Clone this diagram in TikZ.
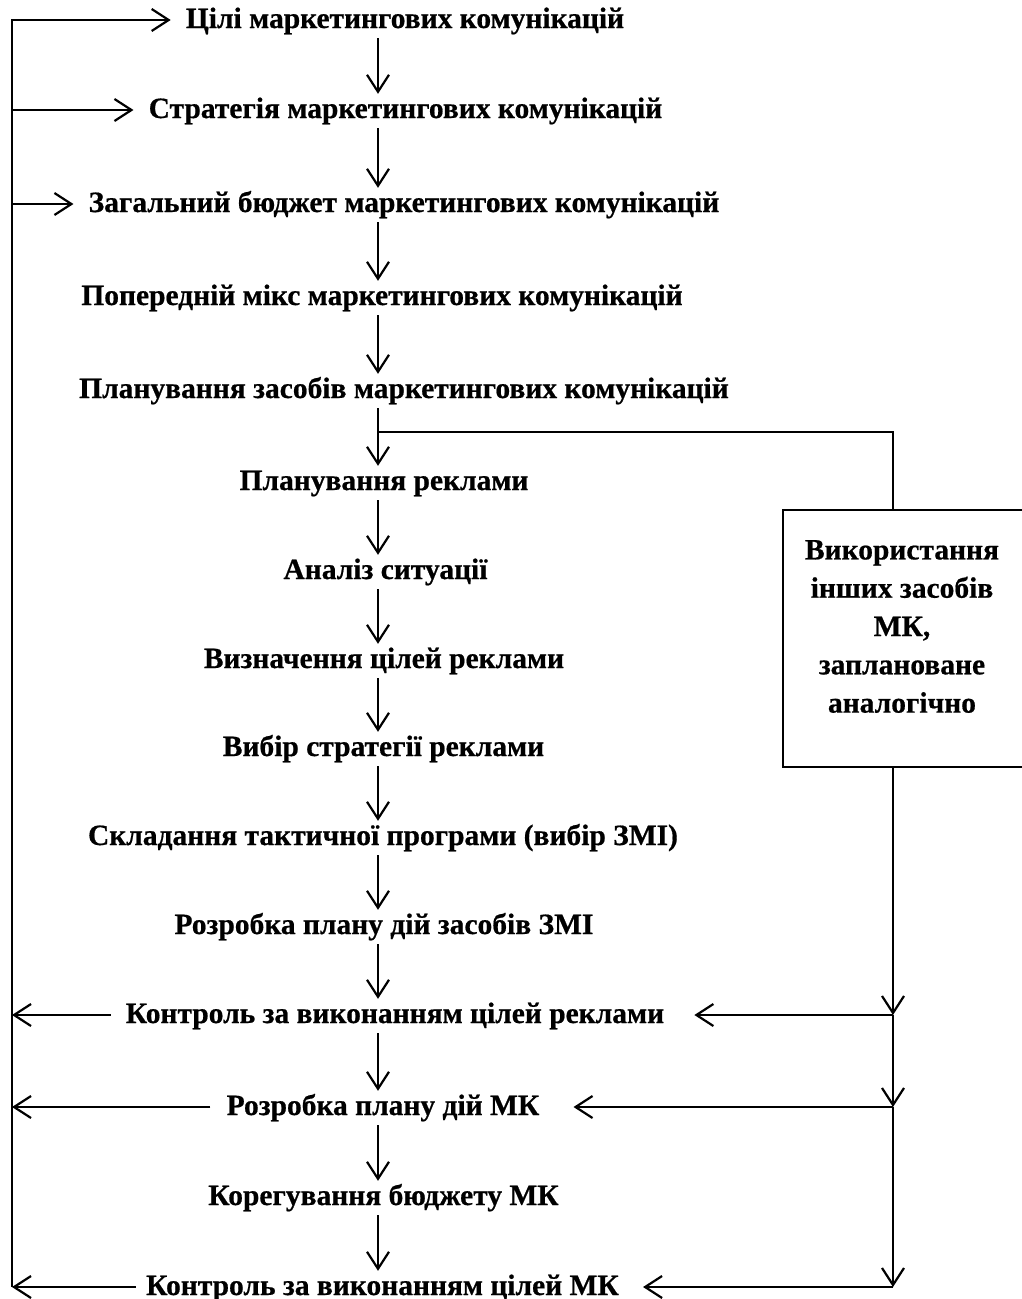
\documentclass[tikz,border=0pt]{standalone}
\usepackage{fontspec}
\setmainfont{Liberation Serif}[BoldFeatures={FakeBold=0.6}]
\usetikzlibrary{arrows.meta}

\tikzset{
  lbl/.style={font=\fontsize{29.5}{38}\selectfont\bfseries, anchor=base,
    inner xsep=0pt, inner ysep=0pt, text height=16pt, text depth=0pt},
  boxtxt/.style={font=\fontsize{29.5}{38.3}\selectfont\bfseries, align=center,
    inner sep=0pt},
  flow/.style={line width=2.2pt, -{Straight Barb[length=17pt,width=22pt]}},
  thinline/.style={line width=1.4pt},
}

\begin{document}
\begin{tikzpicture}[x=1pt,y=-1pt, line join=miter]
\useasboundingbox (0,0) rectangle (1021,1299);

% vertical guide lines
\coordinate (sp) at (378,0);   % main column
\coordinate (sl) at (12,0);    % left return line
\coordinate (sr) at (893,0);   % right feed line

% steps of the planning process
\node[lbl] (n1)  at (405,28)   {Цілі маркетингових комунікацій};
\node[lbl] (n2)  at (405.5,118) {Стратегія маркетингових комунікацій};
\node[lbl] (n3)  at (404,212)  {Загальний бюджет маркетингових комунікацій};
\node[lbl] (n4)  at (382,305)  {Попередній мікс маркетингових комунікацій};
\node[lbl] (n5)  at (404,398)  {Планування засобів маркетингових комунікацій};
\node[lbl] (n6)  at (384,490)  {Планування реклами};
\node[lbl] (n7)  at (385.5,579) {Аналіз ситуації};
\node[lbl] (n8)  at (384,668)  {Визначення цілей реклами};
\node[lbl] (n9)  at (383.5,756) {Вибір стратегії реклами};
\node[lbl] (n10) at (383,845)  {Складання тактичної програми (вибір ЗМІ)};
\node[lbl] (n11) at (384,934)  {Розробка плану дій засобів ЗМІ};
\node[lbl] (n12) at (395,1023) {Контроль за виконанням цілей реклами};
\node[lbl] (n13) at (383,1115) {Розробка плану дій МК};
\node[lbl] (n14) at (383.5,1205) {Корегування бюджету МК};
\node[lbl] (n15) at (382.5,1295) {Контроль за виконанням цілей МК};

% side block
\node[draw, line width=2.2pt, minimum width=240pt, minimum height=257pt,
      inner sep=0pt] (box) at (903,638.5) {};
\node[boxtxt] (boxtext) at (902,626.5)
  {Використання\\інших засобів\\МК,\\заплановане\\аналогічно};

% main column arrows
\foreach \a/\b in {n1/n2,n2/n3,n3/n4,n4/n5,n5/n6,n6/n7,n7/n8,n8/n9,
                   n9/n10,n10/n11,n11/n12,n12/n13,n13/n14,n14/n15}
  \draw[flow, shorten <=10pt, shorten >=8pt] (\a.south -| sp) -- (\b.north -| sp);

% branch to the side block
\coordinate (bp) at (378,432);
\draw[thinline] (bp) -- (bp -| sr) -- (sr |- box.north);

% right feed line with its arrows
\coordinate (r12) at (sr |- n12.east);
\coordinate (r13) at (sr |- n13.east);
\coordinate (r15) at (sr |- n15.east);
\draw[flow] (sr |- box.south) -- (r12);
\draw[flow] (r12) -- (r13);
\draw[flow] (r13) -- (r15);
\draw[flow, shorten >=30pt] (r12) -- (n12.east);
\draw[flow, shorten >=34pt] (r13) -- (n13.east);
\draw[flow, shorten >=24pt] (r15) -- (n15.east);

% left return line
\coordinate (l12) at (sl |- n12.west);
\coordinate (l13) at (sl |- n13.west);
\coordinate (l15) at (sl |- n15.west);
\draw[flow, shorten >=15pt] (l15) -- (sl |- n1.west) -- (n1.west);
\draw[flow, shorten >=15pt] (sl |- n2.west) -- (n2.west);
\draw[flow, shorten >=15pt] (sl |- n3.west) -- (n3.west);
\draw[flow, shorten <=15pt] (n12.west) -- (l12);
\draw[flow, shorten <=16pt] (n13.west) -- (l13);
\draw[flow, shorten <=10pt] (n15.west) -- (l15);
\end{tikzpicture}
\end{document}
